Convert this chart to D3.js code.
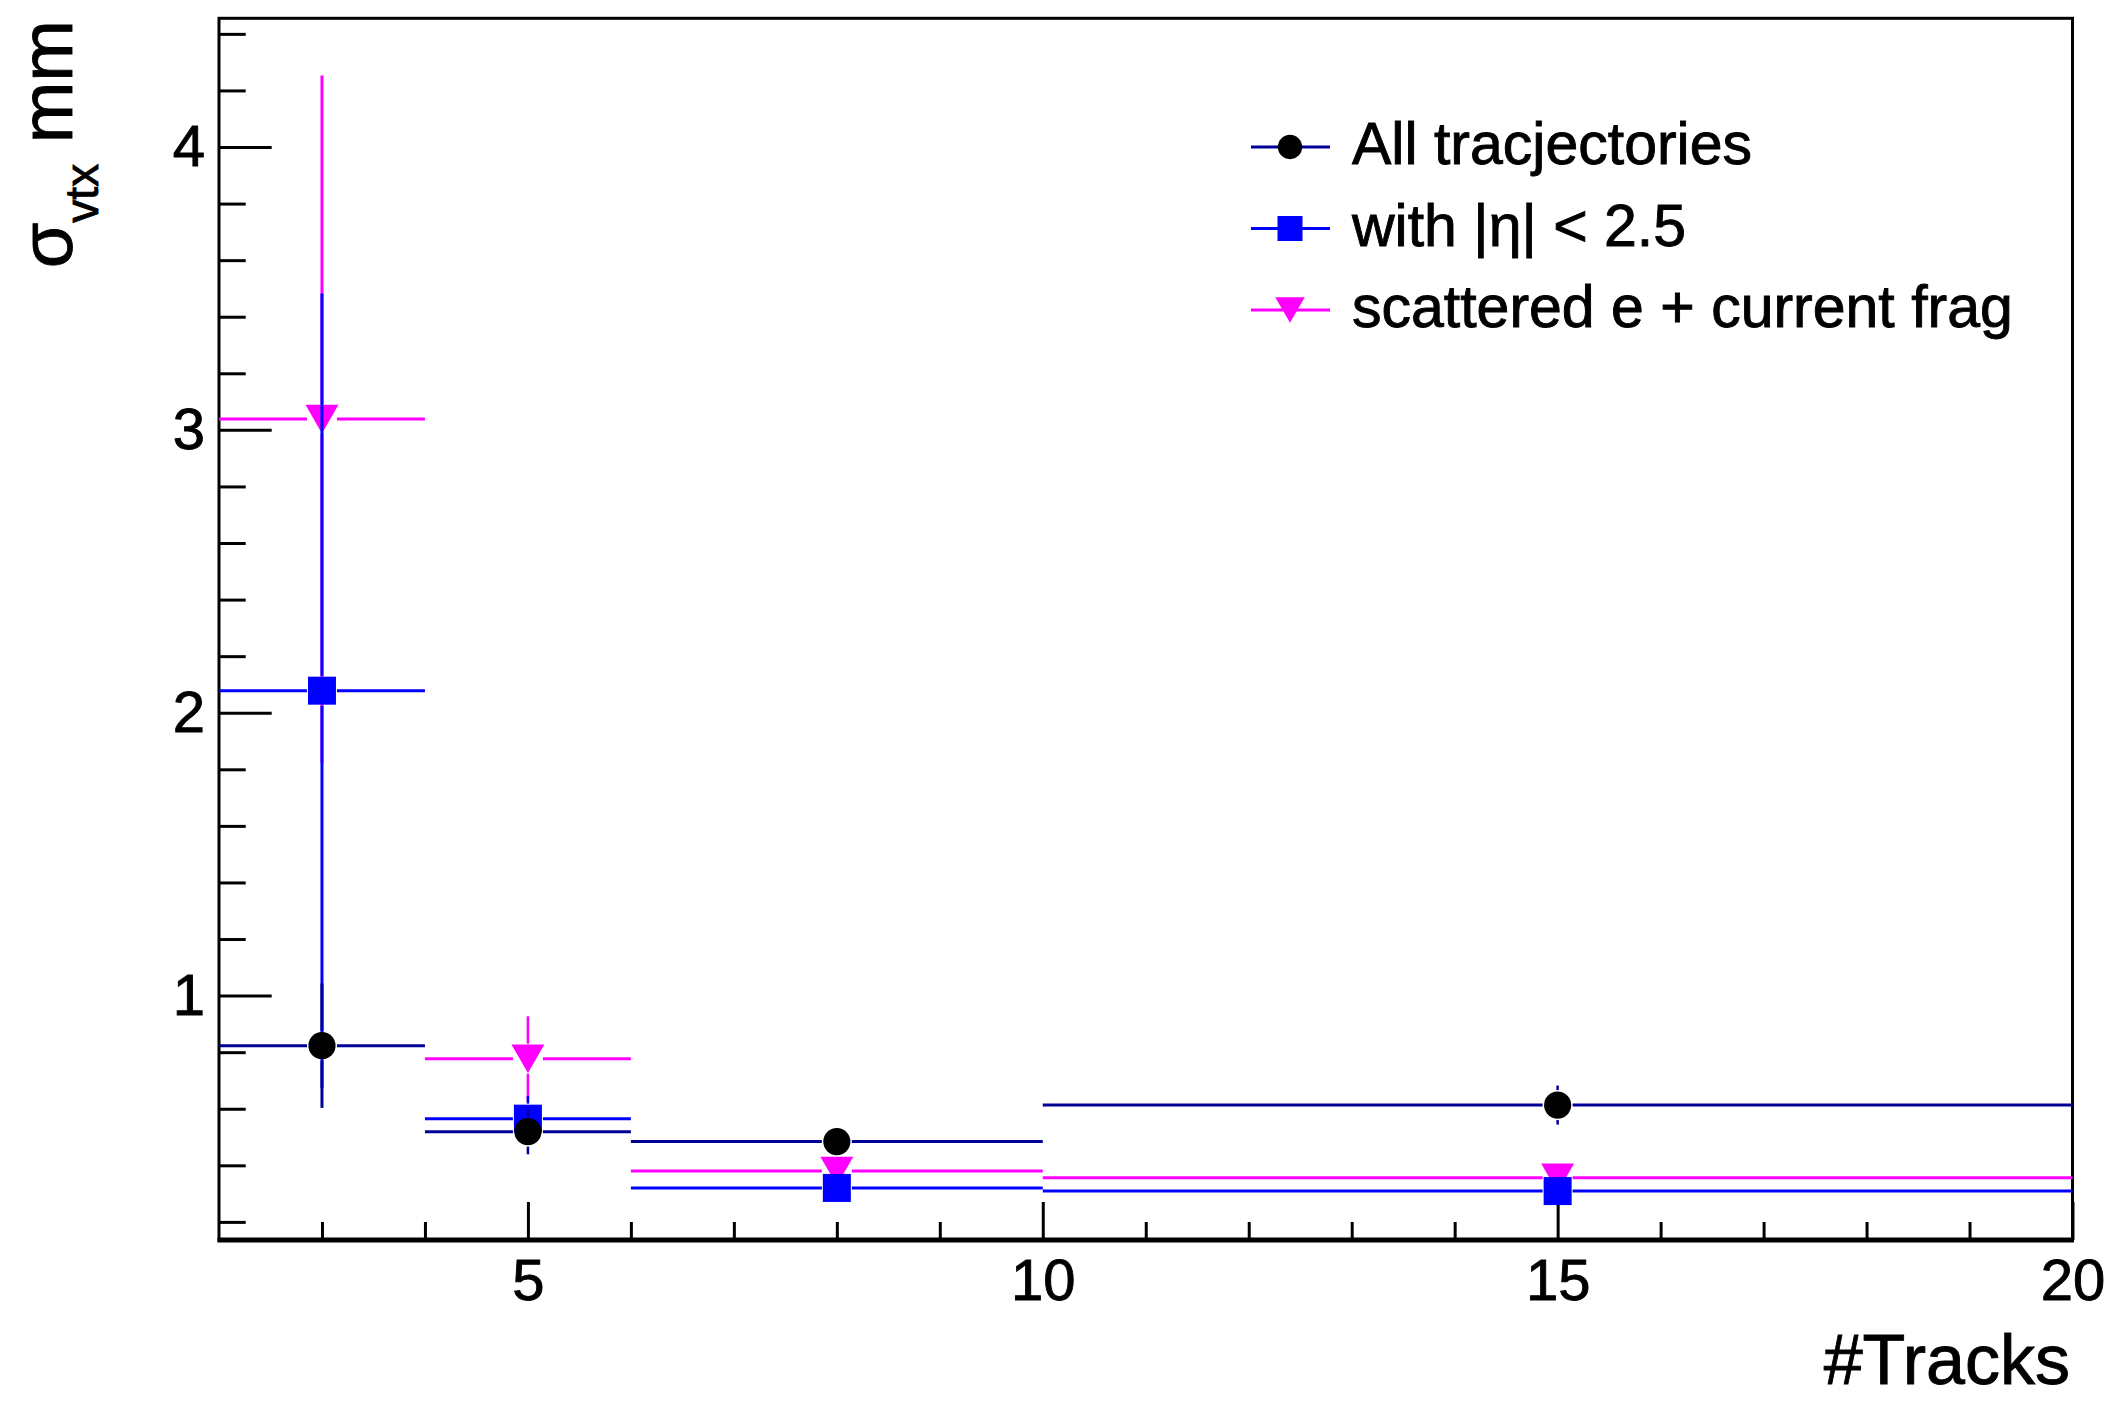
<!DOCTYPE html>
<html>
<head>
<meta charset="utf-8">
<script src="https://cdn.jsdelivr.net/npm/d3@7"></script>
<style>
body { margin: 0; background: #fff; }
text { font-family: "Liberation Sans", Arial, sans-serif; fill: #000; stroke: #000; stroke-width: 0.9px; }
</style>
</head>
<body>
<div id="chart"></div>
<script>
// binned data: sigma of vertex vs number of tracks
var binEdges = [2, 4, 6, 10, 20];
var binCenters = [3, 5, 8, 15];

var allVals = [0.823, 0.519, 0.484, 0.613];
var allErrs = [0.22, 0.08, 0.03, 0.069];
var etaVals = [2.078, 0.565, 0.320, 0.309];
var etaErrs = [1.404, 0.08, 0.02, 0.02];
var scatVals = [3.038, 0.777, 0.380, 0.356];
var scatErrs = [1.215, 0.15, 0.03, 0.03];

var xTicks = [5, 10, 15, 20];
var yTicks = [1, 2, 3, 4];
var legendLabels = ["All tracjectories", "with |\u03b7| < 2.5", "scattered e + current frag"];

var W = 2110, H = 1401;
var svg = d3.select("#chart").append("svg").attr("width", W).attr("height", H);

var x = d3.scaleLinear().domain([2, 20]).range([219, 2072.5]);
var y = d3.scaleLinear().domain([0.136, 4.455]).range([1240, 18.3]);

// down-pointing triangle centred on its bounding box
var triDown = {
  draw: function(ctx, size) {
    var w = Math.sqrt(size * 4 / Math.sqrt(3)), h = w * Math.sqrt(3) / 2;
    ctx.moveTo(-w / 2, -h / 2);
    ctx.lineTo(w / 2, -h / 2);
    ctx.lineTo(0, h / 2);
    ctx.closePath();
  }
};

var series = [
  {vals: scatVals, errs: scatErrs, line: "#ff00ff", fill: "#ff00ff", sym: triDown, size: 470},
  {vals: etaVals, errs: etaErrs, line: "#0000ff", fill: "#0000ff", sym: d3.symbolSquare, size: 784},
  {vals: allVals, errs: allErrs, line: "#000099", fill: "#000000", sym: d3.symbolCircle, size: 580}
];

//Axes (ticks point inward)
var xMinor = d3.range(3, 20).filter(function(d) { return d % 5 != 0; });
var yMinor = d3.range(1, 23).map(function(d) { return +(d * 0.2).toFixed(1); }).filter(function(d) { return d % 1 != 0; });

svg.append("g").attr("transform", "translate(0,1240)")
  .call(d3.axisBottom(x).tickValues(xTicks).tickSize(-38).tickPadding(19).tickFormat(d3.format("d")));
svg.append("g").attr("transform", "translate(0,1240)")
  .call(d3.axisBottom(x).tickValues(xMinor).tickSize(-18).tickFormat(""));
svg.append("g").attr("transform", "translate(219,0)")
  .call(d3.axisLeft(y).tickValues(yTicks).tickSize(-52.7).tickPadding(14).tickFormat(d3.format("d")));
svg.append("g").attr("transform", "translate(219,0)")
  .call(d3.axisLeft(y).tickValues(yMinor).tickSize(-26.7).tickFormat(""));

svg.selectAll(".domain").remove();
svg.selectAll(".tick line").attr("stroke", "#000").attr("stroke-width", 3);
svg.selectAll(".tick text").attr("font-size", 58).attr("font-family", "Liberation Sans, Arial, sans-serif").attr("fill", "#000");

// frame
svg.append("rect").attr("x", x(2)).attr("y", y(4.455)).attr("width", x(20) - x(2)).attr("height", y(0.136) - y(4.455))
  .attr("fill", "none").attr("stroke", "#000").attr("stroke-width", 3);
svg.append("line").attr("x1", x(2) - 1.5).attr("x2", x(20) + 1.5).attr("y1", y(0.136)).attr("y2", y(0.136))
  .attr("stroke", "#000").attr("stroke-width", 5);

// data with error bars, gap round the marker
var gap = 15;
series.forEach(function(s) {
  var g = svg.append("g");
  binCenters.forEach(function(c, i) {
    var cx = x(c), cy = y(s.vals[i]);
    var segs = [
      [x(binEdges[i]), cy, cx - gap, cy],
      [cx + gap, cy, x(binEdges[i + 1]), cy],
      [cx, y(s.vals[i] + s.errs[i]), cx, cy - gap],
      [cx, cy + gap, cx, y(s.vals[i] - s.errs[i])]
    ];
    segs.forEach(function(p) {
      if ((p[2] - p[0]) > 0 || (p[3] - p[1]) > 0) {
        g.append("line").attr("x1", p[0]).attr("y1", p[1]).attr("x2", p[2]).attr("y2", p[3])
          .attr("stroke", s.line).attr("stroke-width", i == 0 || p[1] == p[3] ? 3 : 2.5);
      }
    });
  });
  g.selectAll("path").data(binCenters).enter().append("path")
    .attr("d", d3.symbol().type(s.sym).size(s.size))
    .attr("transform", function(c, i) { return "translate(" + x(c) + "," + y(s.vals[i]) + ")"; })
    .attr("fill", s.fill);
});

// legend
var legSeries = [series[2], series[1], series[0]];
var leg = svg.append("g");
legSeries.forEach(function(s, i) {
  var ly = 147 + i * 81.5;
  leg.append("line").attr("x1", 1251).attr("x2", 1330).attr("y1", ly).attr("y2", ly)
    .attr("stroke", s.line).attr("stroke-width", 3);
  leg.append("path").attr("d", d3.symbol().type(s.sym).size(s.size * 0.8)())
    .attr("transform", "translate(1290," + ly + ")").attr("fill", s.fill);
  leg.append("text").attr("x", 1352).attr("y", ly + 17).attr("font-size", 59).text(legendLabels[i]);
});

// axis titles
svg.append("text").attr("x", 2070).attr("y", 1384).attr("text-anchor", "end").attr("font-size", 70).text("#Tracks");

var yt = svg.append("text").attr("transform", "translate(72,20) rotate(-90)").attr("text-anchor", "end").attr("font-size", 74);
yt.append("tspan").text("\u03c3");
yt.append("tspan").attr("font-size", 46).attr("dy", 26).text("vtx");
yt.append("tspan").attr("dy", -26).text(" mm");
</script>
</body>
</html>
